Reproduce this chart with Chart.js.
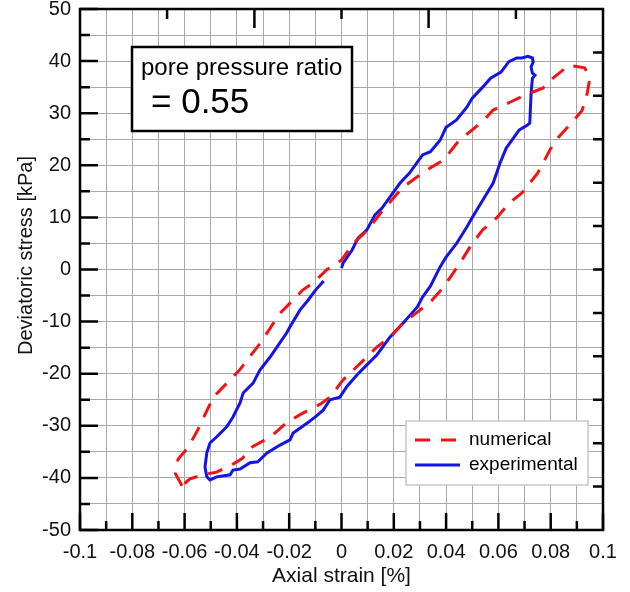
<!DOCTYPE html>
<html>
<head>
<meta charset="utf-8">
<script src="https://cdn.jsdelivr.net/npm/chart.js@4.4.1/dist/chart.umd.min.js"></script>
<style>
  html, body { margin: 0; padding: 0; background: #fff; }
</style>
</head>
<body>
<canvas id="graph" width="630" height="592"></canvas>
<script>
// experimental loop (blue)
var expStrain = [-0.0068, -0.0100, -0.0128, -0.0159, -0.0197, -0.0210, -0.0247, -0.0273, -0.0312, -0.0338,
  -0.0376, -0.0388, -0.0415, -0.0439, -0.0477, -0.0503, -0.0515, -0.0522, -0.0515, -0.0503,
  -0.0477, -0.0426, -0.0415, -0.0388, -0.0350, -0.0320, -0.0285, -0.0235, -0.0197, -0.0185,
  -0.0132, -0.0100, -0.0070, -0.0044, -0.0006, 0.0020, 0.0060, 0.0097, 0.0135, 0.0185,
  0.0235, 0.0290, 0.0310, 0.0340, 0.0377, 0.0400, 0.0440, 0.0480, 0.0500, 0.0540,
  0.0580, 0.0606, 0.0630, 0.0660, 0.0680, 0.0710, 0.0720, 0.0725, 0.0730, 0.0740,
  0.0730, 0.0725, 0.0733, 0.0730, 0.0713, 0.0690, 0.0670, 0.0640, 0.0610, 0.0570,
  0.0540, 0.0500, 0.0480, 0.0440, 0.0400, 0.0377, 0.0340, 0.0310, 0.0260, 0.0224,
  0.0185, 0.0155, 0.0128, 0.0097, 0.0063, 0.0040, 0.0006, 0.0000];
var expStress = [-2.2, -4.0, -5.9, -7.8, -11.0, -12.2, -14.9, -16.8, -19.3, -21.8,
  -23.7, -25.6, -28.3, -30.2, -32.1, -33.3, -35.2, -37.9, -39.8, -40.4,
  -39.8, -39.4, -38.5, -38.3, -37.1, -36.9, -35.2, -33.7, -32.7, -31.4,
  -29.5, -28.3, -27.0, -25.0, -24.5, -22.5, -20.2, -18.3, -16.4, -13.0,
  -10.3, -7.2, -5.3, -3.2, 0.5, 2.4, 5.0, 8.2, 10.0, 13.3,
  16.6, 20.4, 23.3, 25.4, 26.8, 27.7, 28.1, 33.8, 36.7, 37.3,
  37.7, 38.9, 39.8, 40.6, 40.9, 40.6, 40.6, 39.9, 37.9, 36.7,
  35.0, 32.9, 31.2, 28.7, 27.3, 24.8, 22.6, 22.0, 18.5, 16.6,
  13.9, 11.8, 10.5, 7.6, 6.0, 3.7, 1.2, 0.3];

// numerical loop (red dashed)
var numStrain = [-0.0610, -0.0635, -0.0625, -0.0587, -0.0550, -0.0490, -0.0390, -0.0310, -0.0235, -0.0147,
  -0.0110, -0.0055, 0.0000, 0.0045, 0.0100, 0.0160, 0.0235, 0.0290, 0.0346, 0.0390,
  0.0450, 0.0537, 0.0580, 0.0644, 0.0702, 0.0770, 0.0810, 0.0870, 0.0930, 0.0950,
  0.0940, 0.0920, 0.0886, 0.0830, 0.0800, 0.0750, 0.0690, 0.0640, 0.0595, 0.0540,
  0.0500, 0.0460, 0.0427, 0.0390, 0.0346, 0.0300, 0.0235, 0.0185, 0.0135, 0.0097,
  0.0045, 0.0006, -0.0044, -0.0080, -0.0160, -0.0210, -0.0270, -0.0340, -0.0380, -0.0410,
  -0.0478, -0.0530, -0.0580, -0.0610];
var numStress = [-41.5, -39.2, -36.4, -34.2, -30.8, -24.5, -19.3, -14.1, -8.4, -3.9,
  -2.6, 0.0, 1.8, 5.0, 7.6, 11.5, 15.8, 17.8, 19.7, 21.0,
  24.8, 28.3, 30.6, 32.1, 33.5, 34.8, 36.8, 39.2, 38.7, 36.8,
  33.9, 30.5, 28.5, 25.4, 23.2, 18.5, 14.7, 12.7, 10.0, 7.6,
  5.0, 1.8, -0.7, -3.4, -5.9, -7.8, -10.3, -13.0, -14.9, -16.8,
  -19.3, -21.2, -24.5, -25.8, -27.9, -29.4, -32.1, -34.0, -36.3, -37.2,
  -38.9, -39.4, -40.2, -41.5];

var xTickLabels = ['-0.1', '-0.08', '-0.06', '-0.04', '-0.02', '0', '0.02', '0.04', '0.06', '0.08', '0.1'];
var yTickLabels = ['-50', '-40', '-30', '-20', '-10', '0', '10', '20', '30', '40', '50'];
var topTicks = [-0.0667, -0.0333, 0, 0.0333, 0.0667];
var topTickLong = [false, true, false, true, false];
var rightTicks = [-41.67, -33.33, -25, -16.67, -8.33, 0, 8.33, 16.67, 25, 33.33, 41.67];

var FONT = '"Liberation Sans", Arial, sans-serif';

function toPoints(xs, ys) {
  return xs.map(function (v, i) { return {x: v, y: ys[i]}; });
}

var decorations = {
  id: 'decorations',
  afterDraw: function (chart) {
    var ctx = chart.ctx, a = chart.chartArea;
    var x = chart.scales.x, y = chart.scales.y;
    ctx.save();
    ctx.strokeStyle = '#000';
    ctx.lineWidth = 2.5;
    ctx.beginPath();
    // bottom ticks, pointing in
    x.ticks.forEach(function (t, i) {
      var px = x.getPixelForValue(t.value);
      var len = i % 2 === 0 ? 17 : 9;
      ctx.moveTo(px, a.bottom); ctx.lineTo(px, a.bottom - len);
    });
    // left ticks
    y.ticks.forEach(function (t, i) {
      var py = y.getPixelForValue(t.value);
      var len = i % 2 === 0 ? 18 : 10;
      ctx.moveTo(a.left, py); ctx.lineTo(a.left + len, py);
    });
    // top ticks
    topTicks.forEach(function (v, i) {
      var px = x.getPixelForValue(v);
      ctx.moveTo(px, a.top); ctx.lineTo(px, a.top + (topTickLong[i] ? 19 : 10));
    });
    // right ticks
    rightTicks.forEach(function (v) {
      var py = y.getPixelForValue(v);
      ctx.moveTo(a.right, py); ctx.lineTo(a.right - 10, py);
    });
    ctx.stroke();
    ctx.strokeRect(a.left, a.top, a.right - a.left, a.bottom - a.top);

    // y axis title (sits a bit above the middle in the original)
    ctx.save();
    ctx.translate(26, (a.top + a.bottom) / 2 - 14);
    ctx.rotate(-Math.PI / 2);
    ctx.fillStyle = '#111';
    ctx.font = '20px ' + FONT;
    ctx.textAlign = 'center';
    ctx.textBaseline = 'middle';
    ctx.fillText('Deviatoric stress [kPa]', 0, 0);
    ctx.restore();

    // text box
    var bx = a.left + 52, by = a.top + 38;
    ctx.fillStyle = '#fff';
    ctx.fillRect(bx, by, 220, 84);
    ctx.lineWidth = 2.5;
    ctx.strokeRect(bx, by, 220, 84);
    ctx.fillStyle = '#000';
    ctx.textAlign = 'left';
    ctx.textBaseline = 'alphabetic';
    ctx.font = '24px ' + FONT;
    ctx.fillText('pore pressure ratio', bx + 9, by + 28);
    ctx.font = '35px ' + FONT;
    ctx.fillText('= 0.55', bx + 19, by + 66);

    // legend
    var lw = 182, lh = 64;
    var lx = a.right - 15 - lw, ly = a.bottom - 45 - lh;
    ctx.fillStyle = '#fff';
    ctx.fillRect(lx, ly, lw, lh);
    ctx.strokeStyle = '#c8c8c8';
    ctx.lineWidth = 1.5;
    ctx.strokeRect(lx, ly, lw, lh);
    ctx.font = '19px ' + FONT;
    ctx.textBaseline = 'middle';
    chart.data.datasets.forEach(function (ds, i) {
      var ry = ly + 19 + i * 25;
      ctx.strokeStyle = ds.borderColor;
      ctx.lineWidth = ds.borderWidth;
      ctx.setLineDash(ds.borderDash || []);
      ctx.beginPath();
      ctx.moveTo(lx + 9, ry); ctx.lineTo(lx + 54, ry);
      ctx.stroke();
      ctx.setLineDash([]);
      ctx.fillStyle = '#000';
      ctx.fillText(ds.label, lx + 63, ry);
    });
    ctx.restore();
  }
};

var ctx = document.getElementById('graph').getContext('2d');

var chart = new Chart(ctx, {
  type: 'scatter',
  data: {
    datasets: [
      {
        label: 'numerical',
        data: toPoints(numStrain, numStress),
        showLine: true,
        borderColor: '#f01414',
        borderWidth: 3,
        borderDash: [15, 11],
        pointRadius: 0,
        tension: 0
      },
      {
        label: 'experimental',
        data: toPoints(expStrain, expStress),
        showLine: true,
        borderColor: '#1414e6',
        borderWidth: 3,
        pointRadius: 0,
        tension: 0
      }
    ]
  },
  options: {
    responsive: false,
    animation: false,
    layout: {padding: {top: 9, right: 27, left: 0, bottom: 0}},
    plugins: {legend: {display: false}, tooltip: {enabled: false}},
    scales: {
      x: {
        type: 'linear',
        min: -0.1,
        max: 0.1,
        afterFit: function (s) { s.height = 62; s.paddingLeft = 0; s.paddingRight = 0; },
        border: {display: false},
        grid: {color: '#a8a8a8', lineWidth: 1, drawTicks: false},
        ticks: {
          stepSize: 0.01,
          autoSkip: false,
          maxRotation: 0,
          padding: 10,
          color: '#111',
          font: {family: FONT, size: 20},
          callback: function (v, i) { return i % 2 === 0 ? xTickLabels[i / 2] : ''; }
        },
        title: {
          display: true,
          text: 'Axial strain [%]',
          color: '#111',
          font: {family: FONT, size: 21},
          padding: {top: 0, bottom: 3}
        }
      },
      y: {
        type: 'linear',
        min: -50,
        max: 50,
        afterFit: function (s) { s.width = 80; s.paddingTop = 0; s.paddingBottom = 0; },
        border: {display: false},
        grid: {color: '#a8a8a8', lineWidth: 1, drawTicks: false},
        ticks: {
          stepSize: 5,
          autoSkip: false,
          padding: 9,
          color: '#111',
          font: {family: FONT, size: 20},
          callback: function (v, i) { return i % 2 === 0 ? yTickLabels[i / 2] : ''; }
        }
      }
    }
  },
  plugins: [decorations]
});
</script>
</body>
</html>
